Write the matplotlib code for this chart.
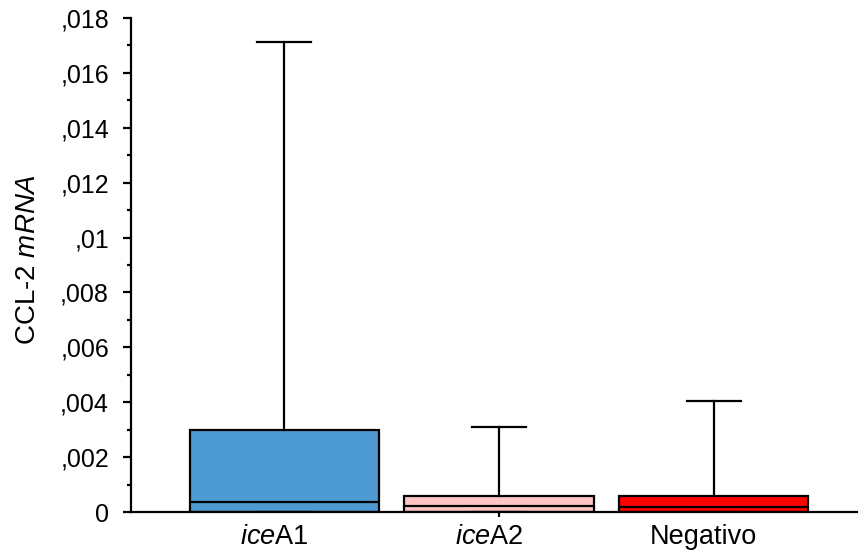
import matplotlib
matplotlib.use("Agg")
import matplotlib.pyplot as plt
import matplotlib.transforms as mtransforms

plt.rcParams["font.family"] = ["Liberation Sans", "DejaVu Sans"]
plt.rcParams["mathtext.fontset"] = "custom"
plt.rcParams["mathtext.rm"] = "Liberation Sans"
plt.rcParams["mathtext.it"] = "Liberation Sans:italic"

# Box-plot summaries of CCL-2 mRNA per group
groups = [r"$\it{ice}$A1", r"$\it{ice}$A2", "Negativo"]
q1 = [0.0, 0.0, 0.0]
medians = [0.00037, 0.00021, 0.00020]
q3 = [0.00300, 0.00058, 0.00058]
whisker_low = [0.0, 0.0, 0.0]
whisker_high = [0.01713, 0.00310, 0.00404]
box_colors = ["#4D9BD2", "#FFC4C4", "#FF0000"]

y_ticks = [0, 0.002, 0.004, 0.006, 0.008, 0.01, 0.012, 0.014, 0.016, 0.018]
y_tick_labels = ["0", ",002", ",004", ",006", ",008", ",01", ",012", ",014", ",016", ",018"]

fig = plt.figure(figsize=(8.58, 5.56), dpi=100)
ax = fig.add_axes([131 / 858, 1 - 512 / 556, 1 - 131 / 858, (512 - 18) / 556])

stats = []
for i in range(len(groups)):
    stats.append(dict(med=medians[i], q1=q1[i], q3=q3[i],
                      whislo=whisker_low[i], whishi=whisker_high[i], fliers=[]))

positions = list(range(len(groups)))
bp = ax.bxp(stats, positions=positions, widths=0.88, patch_artist=True,
            showfliers=False, showcaps=True,
            boxprops=dict(linewidth=1.6, edgecolor="black"),
            medianprops=dict(color="black", linewidth=1.6),
            whiskerprops=dict(color="black", linewidth=1.6),
            capprops=dict(color="black", linewidth=1.6),
            capwidths=0.25)
for patch, c in zip(bp["boxes"], box_colors):
    patch.set_facecolor(c)

ax.set_xlim(-0.713, 2.671)
ax.set_ylim(0, 0.018)

ax.spines["top"].set_visible(False)
ax.spines["right"].set_visible(False)
for s in ("left", "bottom"):
    ax.spines[s].set_linewidth(1.6)
ax.spines["left"].set_zorder(5)

ax.set_yticks(y_ticks)
ax.set_yticklabels(y_tick_labels)
ax.set_yticks([0.001 + 0.002 * k for k in range(9)], minor=True)
ax.tick_params(axis="y", which="major", length=5.8, width=1.6, pad=10, labelsize=18)
ax.tick_params(axis="y", which="minor", length=3, width=1.6)

ax.set_xticks(positions)
ax.set_xticklabels(groups)
ax.tick_params(axis="x", which="major", length=3.6, width=1.6, pad=5, labelsize=19.5)
for i, t in enumerate(ax.xaxis.get_major_ticks()):
    if i != 1:
        t.tick1line.set_visible(False)
shift = mtransforms.ScaledTranslation(-10 / 100, 0, fig.dpi_scale_trans)
for lbl in ax.get_xticklabels():
    lbl.set_transform(lbl.get_transform() + shift)

ax.set_ylabel(r"CCL-2 $\it{mRNA}$", fontsize=20)
ax.yaxis.set_label_coords(-90 / 727, 0.51)

fig.savefig("out.png", dpi=100)
